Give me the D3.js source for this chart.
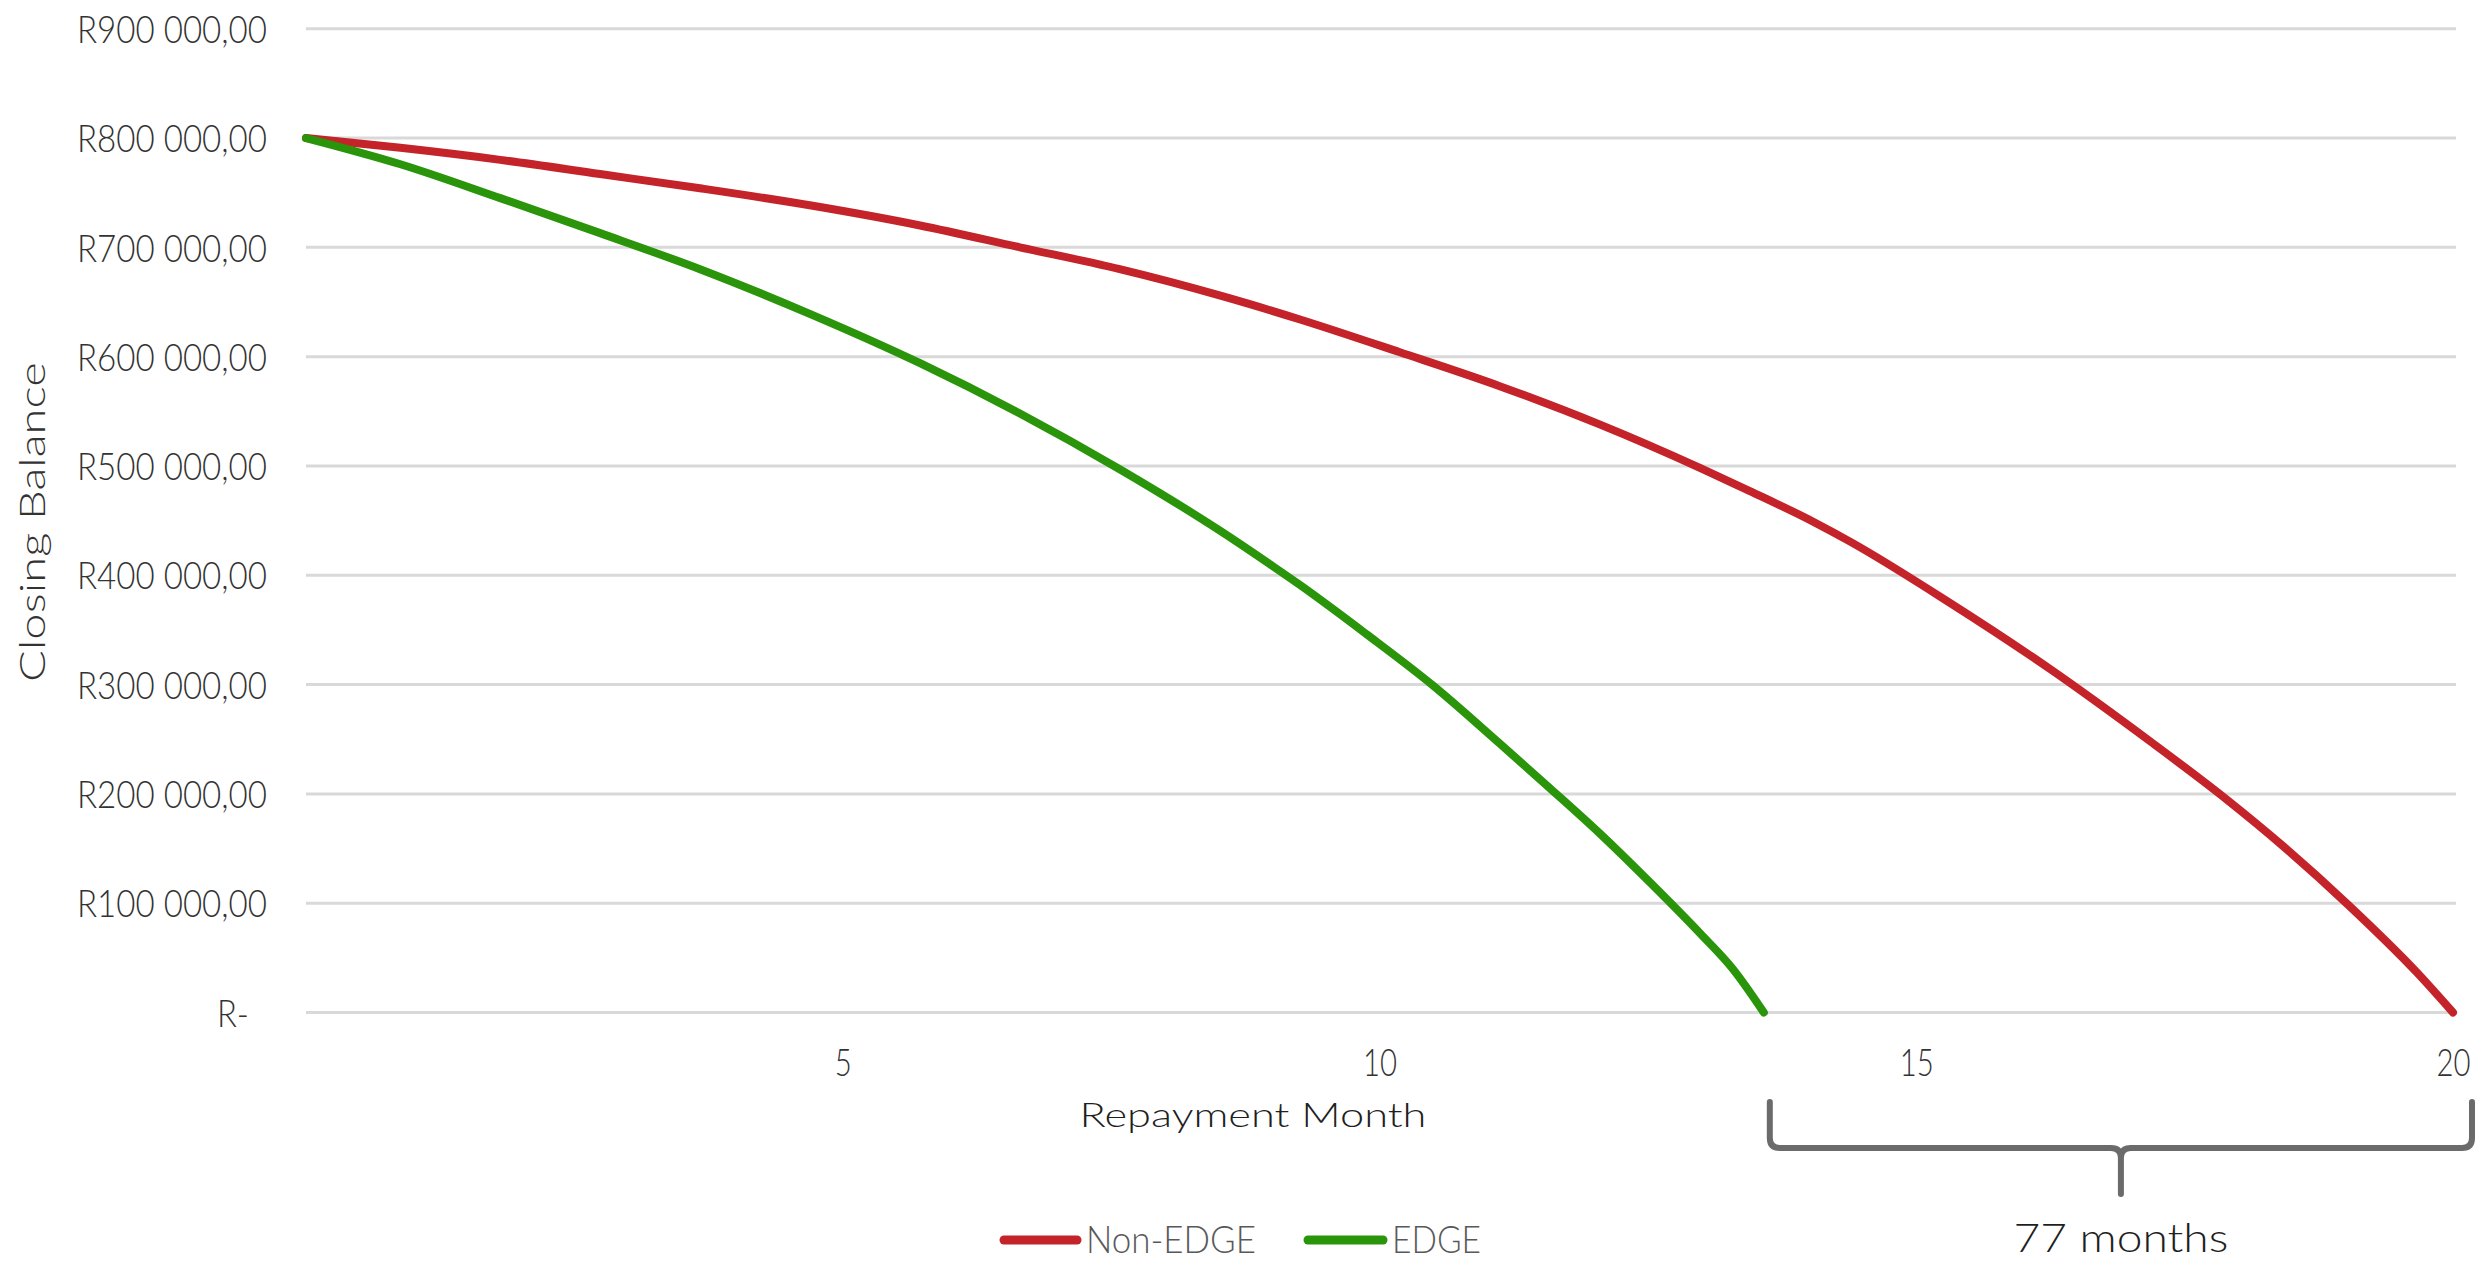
<!DOCTYPE html>
<html>
<head>
<meta charset="utf-8">
<script src="https://cdn.jsdelivr.net/npm/d3@7"></script>
<style>
  html, body { margin: 0; padding: 0; background: #ffffff; }
  svg { display: block; }
  text { font-family: Lato, "Open Sans", "DejaVu Sans", sans-serif; font-weight: 300; }
</style>
</head>
<body>
<svg id="chart" width="2483" height="1261"></svg>
<script>
// Closing balance of an R800 000 bond over the repayment period (years on the x axis)
const nonEdgeYears = [0, 0.88, 1.81, 2.74, 3.67, 4.72, 5.72, 6.65, 7.58, 8.51, 9.26, 10.19, 11.12,
                      12.05, 12.99, 13.45, 14.04, 14.38, 15.31, 16.25, 17.18, 17.89, 18.42, 19.04, 19.66, 20];
const nonEdgeBalance = [800000, 791000, 780000, 767000, 754000, 738000, 720000, 700000, 680000, 656000, 634000,
                        604000, 573000, 538000, 498000, 477000, 449000, 431000, 375000, 314000, 248000,
                        195000, 152000, 97000, 37000, 0];

const edgeYears = [0, 0.88, 1.81, 2.74, 3.67, 4.72, 5.72, 6.65, 7.58, 8.51, 9.01, 9.26, 9.88, 10.5,
                   11.12, 11.59, 12.05, 12.52, 12.99, 13.29, 13.58];
const edgeBalance = [800000, 776000, 745000, 713000, 680000, 638000, 594000, 548000, 497000, 441000, 408000,
                     391000, 346000, 299000, 246000, 205000, 164000, 119000, 72000, 40000, 0];

const yTicks = [0, 100000, 200000, 300000, 400000, 500000, 600000, 700000, 800000, 900000];
const xTicks = [5, 10, 15, 20];

const seriesNames = ["Non-EDGE", "EDGE"];
const seriesColors = ["#c4232a", "#2a940a"];
const termMonths = 240;
const edgeMonths = 163;
const savedLabel = (termMonths - edgeMonths) + " months";

const svg = d3.select("#chart");

const x = d3.scaleLinear().domain([0, 20]).range([306, 2453]);
const y = d3.scaleLinear().domain([0, 900000]).range([1012.5, 28.7]);

// horizontal gridlines
svg.append("g")
  .selectAll("line")
  .data(yTicks)
  .join("line")
  .attr("x1", 306).attr("x2", 2456)
  .attr("y1", d => y(d)).attr("y2", d => y(d))
  .attr("stroke", "#d9d9d9")
  .attr("stroke-width", 3);

// y axis labels
const money = v => v === 0 ? "R-" : "R" + d3.format(",")(v).replace(/,/g, " ") + ",00";
const yAxis = svg.append("g")
  .attr("transform", "translate(267,0)")
  .call(d3.axisLeft(y).tickValues(yTicks).tickFormat(money).tickSize(0).tickPadding(0));
yAxis.select(".domain").remove();
yAxis.selectAll("text")
  .attr("font-size", 38)
  .attr("fill", "#333333")
  .attr("dy", "0.36em")
  .attr("x", d => d === 0 ? -18 : 0)
  .attr("textLength", d => d === 0 ? 32 : 190)
  .attr("lengthAdjust", "spacingAndGlyphs");

// x axis labels
const xAxis = svg.append("g")
  .attr("transform", "translate(0,1012.5)")
  .call(d3.axisBottom(x).tickValues(xTicks).tickFormat(d3.format("d")).tickSize(0).tickPadding(0));
xAxis.select(".domain").remove();
xAxis.selectAll("text")
  .attr("font-size", 38)
  .attr("fill", "#333333")
  .attr("y", 50)
  .attr("dy", "0.36em")
  .attr("textLength", d => String(d).length * 17)
  .attr("lengthAdjust", "spacingAndGlyphs");

// axis titles
svg.append("text")
  .attr("x", 1253).attr("y", 1115)
  .attr("dy", "0.36em")
  .attr("text-anchor", "middle")
  .attr("font-size", 34)
  .attr("fill", "#1f1f1f")
  .attr("textLength", 347)
  .attr("lengthAdjust", "spacingAndGlyphs")
  .text("Repayment Month");

svg.append("text")
  .attr("transform", "translate(32,522) rotate(-90)")
  .attr("dy", "0.36em")
  .attr("text-anchor", "middle")
  .attr("font-size", 36)
  .attr("fill", "#333333")
  .attr("textLength", 320)
  .attr("lengthAdjust", "spacingAndGlyphs")
  .text("Closing Balance");

// balance curves
const line = d3.line()
  .x(d => x(d[0]))
  .y(d => y(d[1]))
  .curve(d3.curveMonotoneX);

const series = [
  nonEdgeYears.map((t, i) => [t, nonEdgeBalance[i]]),
  edgeYears.map((t, i) => [t, edgeBalance[i]])
];

svg.append("g")
  .selectAll("path")
  .data(series)
  .join("path")
  .attr("d", line)
  .attr("fill", "none")
  .attr("stroke", (d, i) => seriesColors[i])
  .attr("stroke-width", 8)
  .attr("stroke-linecap", "round")
  .attr("stroke-linejoin", "round");

// brace marking the months saved
const bx0 = x(edgeYears[edgeYears.length - 1]) + 6;
const bx1 = x(20) + 19;
const bm = (bx0 + bx1) / 2;
const braceTop = 1102, braceBar = 1148, braceTip = 1194, rr = 10;
const brace = d3.path();
brace.moveTo(bx0, braceTop);
brace.lineTo(bx0, braceBar - rr);
brace.quadraticCurveTo(bx0, braceBar, bx0 + rr, braceBar);
brace.lineTo(bm - rr, braceBar);
brace.quadraticCurveTo(bm, braceBar, bm, braceBar + rr);
brace.lineTo(bm, braceTip);
brace.moveTo(bm, braceBar + rr);
brace.quadraticCurveTo(bm, braceBar, bm + rr, braceBar);
brace.lineTo(bx1 - rr, braceBar);
brace.quadraticCurveTo(bx1, braceBar, bx1, braceBar - rr);
brace.lineTo(bx1, braceTop);
svg.append("path")
  .attr("d", brace.toString())
  .attr("fill", "none")
  .attr("stroke", "#6b6b6b")
  .attr("stroke-width", 6)
  .attr("stroke-linecap", "round")
  .attr("stroke-linejoin", "round");

svg.append("text")
  .attr("x", bm).attr("y", 1252)
  .attr("text-anchor", "middle")
  .attr("font-size", 40)
  .attr("fill", "#1f1f1f")
  .attr("textLength", 215)
  .attr("lengthAdjust", "spacingAndGlyphs")
  .text(savedLabel);

// legend
const legend = [
  { x0: 1004, x1: 1077, tx: 1086, tw: 170 },
  { x0: 1308, x1: 1383, tx: 1392, tw: 89 }
];
const lg = svg.append("g");
lg.selectAll("line")
  .data(legend)
  .join("line")
  .attr("x1", d => d.x0).attr("x2", d => d.x1)
  .attr("y1", 1240).attr("y2", 1240)
  .attr("stroke", (d, i) => seriesColors[i])
  .attr("stroke-width", 9)
  .attr("stroke-linecap", "round");
lg.selectAll("text")
  .data(legend)
  .join("text")
  .attr("x", d => d.tx).attr("y", 1253)
  .attr("font-size", 37)
  .attr("fill", "#595959")
  .attr("textLength", d => d.tw)
  .attr("lengthAdjust", "spacingAndGlyphs")
  .text((d, i) => seriesNames[i]);
</script>
</body>
</html>
